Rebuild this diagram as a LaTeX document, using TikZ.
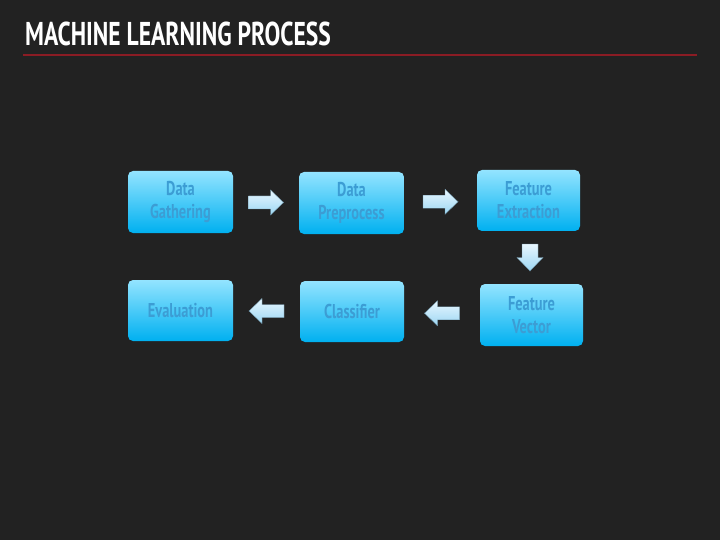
\documentclass[tikz,border=0pt]{standalone}
\usepackage{fontspec}
\usetikzlibrary{calc}
\newfontfamily\condfont{PT Sans}[FakeStretch=0.72]
\newfontfamily\titlefont{PT Sans}[FakeStretch=0.715]
\definecolor{bgc}{HTML}{222222}
\definecolor{linec}{HTML}{8B1C24}
\definecolor{boxtop}{HTML}{93E4FF}
\definecolor{boxbot}{HTML}{00B0F0}
\definecolor{boxtext}{HTML}{3C9DD4}
\definecolor{arrtop}{HTML}{E8F7FF}
\definecolor{arrbot}{HTML}{9CD6F3}
\definecolor{arredge}{HTML}{6E94A8}
\tikzset{
  stepbox/.style={rectangle, rounded corners=5pt, top color=boxtop, bottom color=boxbot,
    minimum width=105pt, minimum height=62pt, inner sep=0pt, align=center,
    text=boxtext, font=\condfont\bfseries\fontsize{20}{23}\selectfont},
  arrowfill/.style={top color=arrtop, bottom color=arrbot, draw=arredge, line width=0.4pt},
  pics/rarrow/.style={code={\path[arrowfill] (-17.5,-6.5) -- (4.5,-6.5) -- (4.5,-12.5) -- (17.5,0) -- (4.5,12.5) -- (4.5,6.5) -- (-17.5,6.5) -- cycle;}},
  pics/larrow/.style={code={\path[arrowfill] (17.5,-6.5) -- (-4.5,-6.5) -- (-4.5,-12.5) -- (-17.5,0) -- (-4.5,12.5) -- (-4.5,6.5) -- (17.5,6.5) -- cycle;}},
  pics/darrow/.style={code={\path[arrowfill] (-8,-13.5) -- (8,-13.5) -- (8,0) -- (13,0) -- (0,13.5) -- (-13,0) -- (-8,0) -- cycle;}}
}
\begin{document}
\begin{tikzpicture}[x=1pt,y=-1pt]
\fill[bgc] (0,0) rectangle (720,540);
\useasboundingbox (0,0) rectangle (720,540);
\node[anchor=base west, text=white, inner sep=0pt, font=\titlefont\bfseries\fontsize{33}{36}\selectfont] (title) at (25,46) {MACHINE LEARNING PROCESS};
\draw[linec, line width=1.4pt] (23,55) -- (697,55);
\node[stepbox] (dg) at (180.5,202) {Data\\Gathering};
\node[stepbox] (dp) at (351.5,203) {Data\\Preprocess};
\node[stepbox, minimum width=103pt, minimum height=61pt] (fe) at (528.5,200.5) {Feature\\Extraction};
\node[stepbox, minimum width=103pt] (fv) at (531.5,315) {Feature\\Vector};
\node[stepbox, minimum width=104pt, minimum height=61pt] (cl) at (352,311.5) {Classifier};
\node[stepbox, minimum height=61pt] (ev) at (180.5,310.5) {Evaluation};
\pic at ($(dg.east)!0.5!(dp.west)$) {rarrow};
\pic at ($(dp.east)!0.5!(fe.west)$) {rarrow};
\pic at ($(fe.south)!0.5!(fv.north)$) {darrow};
\pic at ($(fv.west)!0.5!(cl.east)$) {larrow};
\pic at ($(cl.west)!0.5!(ev.east)$) {larrow};
\end{tikzpicture}
\end{document}
